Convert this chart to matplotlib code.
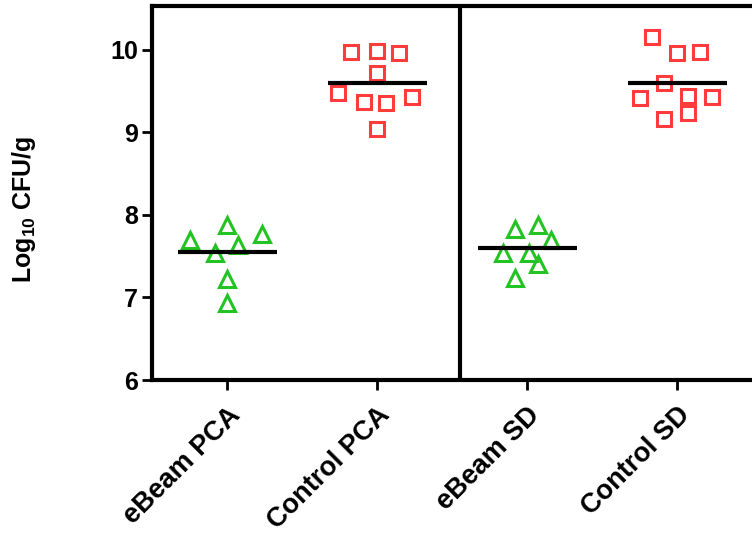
import matplotlib

matplotlib.use("Agg")
import matplotlib.pyplot as plt

plt.rcParams["font.family"] = ["Liberation Sans", "DejaVu Sans"]
plt.rcParams["font.weight"] = "bold"
plt.rcParams["mathtext.fontset"] = "custom"
plt.rcParams["mathtext.rm"] = "Liberation Sans:bold"
plt.rcParams["mathtext.it"] = "Liberation Sans:bold"
plt.rcParams["mathtext.bf"] = "Liberation Sans:bold"

groups = ["eBeam PCA", "Control PCA", "eBeam SD", "Control SD"]

# per-group horizontal scatter offsets and values
ebeam_pca_dx = [-0.25, 0.0, 0.235, -0.08, 0.07, 0.0, 0.0]
ebeam_pca = [7.70, 7.88, 7.77, 7.54, 7.64, 7.22, 6.93]

control_pca_dx = [-0.175, 0.0, 0.147, 0.0, -0.26, -0.09, 0.06, 0.23, 0.0]
control_pca = [9.97, 9.99, 9.96, 9.72, 9.48, 9.37, 9.35, 9.43, 9.04]

ebeam_sd_dx = [-0.08, 0.07, 0.16, -0.16, 0.01, 0.07, -0.08]
ebeam_sd = [7.83, 7.88, 7.70, 7.54, 7.54, 7.41, 7.24]

control_sd_dx = [-0.17, 0.0, 0.153, -0.087, -0.25, 0.07, 0.235, 0.07, -0.087]
control_sd = [10.15, 9.96, 9.97, 9.60, 9.41, 9.44, 9.43, 9.24, 9.16]

means = [7.55, 9.60, 7.60, 9.60]

GREEN = "#22c322"
RED = "#ff3b3b"

fig = plt.figure(figsize=(7.52, 5.39), dpi=100)
ax = fig.add_axes([152 / 752, 1 - 380 / 539, 600 / 752, 374 / 539])

series = [
    (ebeam_pca_dx, ebeam_pca, "^", GREEN, 11.5),
    (control_pca_dx, control_pca, "s", RED, 10.0),
    (ebeam_sd_dx, ebeam_sd, "^", GREEN, 11.5),
    (control_sd_dx, control_sd, "s", RED, 10.0),
]
for i, (dx, vals, mk, col, ms) in enumerate(series):
    ax.plot([i + d for d in dx], vals, linestyle="none", marker=mk, markersize=ms,
            markerfacecolor="none", markeredgecolor=col, markeredgewidth=2.2)
    ax.plot([i - 0.33, i + 0.33], [means[i], means[i]], color="black", linewidth=3,
            solid_capstyle="butt")

ax.axvline(1.55, color="black", linewidth=3)

ax.set_xlim(-0.5, 3.5)
ax.set_ylim(6, 10.53)
ax.set_yticks([6, 7, 8, 9, 10])
ax.set_xticks(range(len(groups)))
ax.set_xticklabels(groups, rotation=45, ha="right", rotation_mode="anchor",
                   fontsize=19.5, fontweight="bold")
for lbl in ax.get_yticklabels():
    lbl.set_fontsize(18)
    lbl.set_fontweight("bold")

for side in ["left", "bottom", "top"]:
    ax.spines[side].set_linewidth(3)
ax.spines["right"].set_visible(False)
ax.tick_params(axis="both", direction="out", length=7, width=2, pad=3)
ax.tick_params(axis="x", pad=9)

ax.set_ylabel("Log$_{10}$ CFU/g", fontsize=18, fontweight="bold")
ax.yaxis.set_label_coords(-0.19, 0.457)

fig.savefig("out.png")
